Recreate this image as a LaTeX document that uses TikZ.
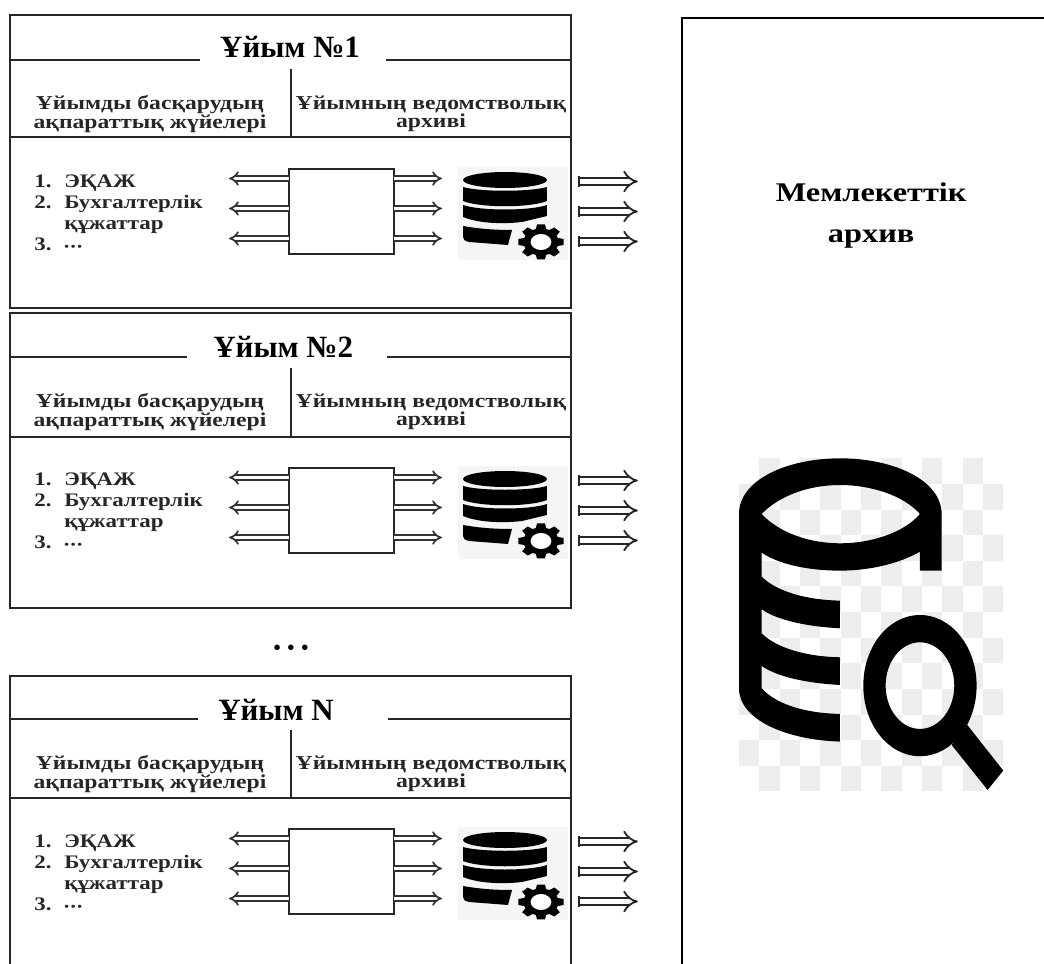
\documentclass[tikz,border=0pt]{standalone}
\usepackage{fontspec}
\setmainfont{Liberation Serif}
\newfontfamily\wideserif[FakeStretch=1.2]{Liberation Serif}
\usetikzlibrary{
    positioning,
    arrows.meta,
    calc
}
\newcommand{\orglist}{\begin{tabular}{@{}l@{\hspace{3.2mm}}l@{}}
1. & ЭҚАЖ\\
2. & Бухгалтерлік\\
   & құжаттар\\
3. & {\fontsize{8}{8}\selectfont •\,•\,•}
\end{tabular}}
\tikzset{
    orgbox/.style={
        rectangle, draw=black!85, line width=1.5pt, outer sep=0pt, minimum width=14.025cm
    },
    partline/.style={
        draw=black!85, line width=1.5pt
    },
    orgtitle/.style={
        inner sep=0pt,
        font=\bfseries\fontsize{22}{24}\selectfont
    },
    parttitle/.style={
        align=center, inner sep=0pt,
        font=\wideserif\bfseries\fontsize{14}{12}\selectfont, text=black!85
    },
    doclist/.style={
        align=left, inner sep=0pt,
        font=\wideserif\bfseries\fontsize{13.6}{15}\selectfont, text=black!85
    },
    corebox/.style={
        rectangle, draw=black!85, line width=1.4pt, outer sep=0pt, fill=white,
        minimum width=2.625cm, minimum height=2.125cm
    },
    innerarrow/.style={
        double=white, draw=black!80, line width=1.2pt, double distance=2.2pt,
        -{Implies[length=3pt, width=8.5pt, line width=1.2pt]}
    },
    outerarrow/.style={
        double=white, draw=black!85, line width=1.3pt, double distance=4pt,
        {Bar[width=7.8pt, line width=1.3pt]}-{Implies[length=5pt, width=14pt, line width=1.3pt]}
    },
    pics/dbgear/.style={
        code={
            \begin{scope}[x=0.025cm, y=-0.025cm]
                \fill[black!4] (-47,-13) rectangle (63,80);
                \fill[black] (0,0) ellipse [x radius=42, y radius=8];
                \fill[black] (-42,7) .. controls (-25,12) and (25,12) .. (42,7) -- (42,21)
                    .. controls (25,28) and (-25,28) .. (-42,21) -- cycle;
                \fill[black] (-42,25) .. controls (-25,31) and (25,31) .. (42,25) -- (42,36)
                    -- (17,42) .. controls (0,44) and (-25,44) .. (-42,37) -- cycle;
                \fill[black] (-42,46) .. controls (-25,49) and (-10,50) .. (7,50) -- (3,65)
                    -- (-36,62) .. controls (-40,61) and (-42,60) .. (-42,57) -- cycle;
                \begin{scope}[shift={(36,62)}, xscale=1.3]
                    \fill[black] (0,0) circle (13.5);
                    \foreach \a in {0,45,...,315}
                        \fill[black, rotate=\a] (-4.2,12) -- (-3,17.5) -- (3,17.5) -- (4.2,12) -- cycle;
                    \fill[white] (0,0) circle (8);
                \end{scope}
            \end{scope}
        }
    },
    pics/dbsearch/.style={
        code={
            \begin{scope}[x=0.008333cm, y=-0.008333cm]
                % Checker background
                \foreach \r in {0,...,12}
                    \foreach \c in {0,...,12} {
                        \pgfmathparse{int(mod(\r+\c,2))}
                        \ifnum\pgfmathresult=1
                            \fill[black!7] ({57+61*\c},{55+76.9*\r}) rectangle ++(61,76.9);
                        \fi
                    }
                \fill[black, even odd rule]
                    (57,222) .. controls (57,120) and (200,55) .. (361,55)
                    .. controls (520,55) and (665,120) .. (665,222) -- (665,392) -- (600,392) -- (600,335)
                    .. controls (540,370) and (450,392) .. (361,392)
                    .. controls (270,392) and (180,375) .. (125,338) -- (125,410)
                    .. controls (170,455) and (260,480) .. (360,482) -- (360,565)
                    .. controls (260,560) and (170,540) .. (125,508) -- (125,580)
                    .. controls (170,625) and (260,650) .. (360,652) -- (360,735)
                    .. controls (260,730) and (170,710) .. (125,678) -- (125,745)
                    .. controls (170,795) and (260,820) .. (360,822) -- (360,905)
                    .. controls (200,900) and (57,840) .. (57,745) -- cycle
                    (125,222) .. controls (180,165) and (270,135) .. (361,135)
                    .. controls (450,135) and (550,165) .. (600,222)
                    .. controls (550,280) and (450,310) .. (361,310)
                    .. controls (270,310) and (180,280) .. (125,222) -- cycle;
                \fill[black, even odd rule]
                    (600,737) ellipse [x radius=170, y radius=212]
                    (600,737) ellipse [x radius=103, y radius=130];
                \fill[black] (742,855) -- (850,992) -- (803,1050) -- (695,915) -- cycle;
            \end{scope}
        }
    }
}
\begin{document}
\begin{tikzpicture}
    \path[use as bounding box, clip] (0,0) rectangle (26.1,-24.075);

    % ORGANISATION 1
    \node[orgbox, anchor=north west, minimum height=7.325cm] (org_one) at (0.25,-0.375) {};
    \coordinate (head_one) at (0,-1.5);
    \coordinate (base_one) at (0,-3.425);
    \draw[partline] (head_one -| org_one.west) -- (5,-1.5);
    \draw[partline] (9.65,-1.5) -- (head_one -| org_one.east);
    \node[orgtitle] (title_one) at (7.25,-1.175) {Ұйым №1};
    \draw[partline] (base_one -| org_one.west) -- (base_one -| org_one.east);
    \draw[partline] (base_one -| 7.275,0) -- ++(0,1.7);
    \node[parttitle] (sys_one) at (3.75,-2.85) {Ұйымды басқарудың\\ақпараттық жүйелері};
    \node[parttitle] (arch_one) at (10.775,-2.85) {Ұйымның ведомстволық\\архиві};
    \node[doclist, anchor=north west] (list_one) at (0.85,-4.3) {\orglist};
    \node[corebox, anchor=north west] (core_one) at (7.225,-4.225) {};
    \pic at (12.625,-4.5) {dbgear};
    \foreach \s in {0.75,0,-0.75} {
        \draw[innerarrow] ([yshift=\s cm + 0.075cm]core_one.west) -- ++(-1.5,0);
        \draw[innerarrow] ([yshift=\s cm + 0.075cm]core_one.east) -- ++(1.2,0);
        \draw[outerarrow] ([xshift=0.17cm, yshift=\s cm]org_one.east |- core_one.center) -- ++(1.5,0);
    }

    % ORGANISATION 2
    \node[orgbox, anchor=north west, minimum height=7.375cm] (org_two) at (0.25,-7.825) {};
    \coordinate (head_two) at (0,-8.925);
    \coordinate (base_two) at (0,-10.925);
    \draw[partline] (head_two -| org_two.west) -- (4.675,-8.925);
    \draw[partline] (9.675,-8.925) -- (head_two -| org_two.east);
    \node[orgtitle] (title_two) at (7.08,-8.675) {Ұйым №2};
    \draw[partline] (base_two -| org_two.west) -- (base_two -| org_two.east);
    \draw[partline] (base_two -| 7.275,0) -- ++(0,1.725);
    \node[parttitle] (sys_two) at (3.75,-10.3) {Ұйымды басқарудың\\ақпараттық жүйелері};
    \node[parttitle] (arch_two) at (10.775,-10.3) {Ұйымның ведомстволық\\архиві};
    \node[doclist, anchor=north west] (list_two) at (0.85,-11.75) {\orglist};
    \node[corebox, anchor=north west] (core_two) at (7.225,-11.7) {};
    \pic at (12.625,-11.975) {dbgear};
    \foreach \s in {0.75,0,-0.75} {
        \draw[innerarrow] ([yshift=\s cm + 0.075cm]core_two.west) -- ++(-1.5,0);
        \draw[innerarrow] ([yshift=\s cm + 0.075cm]core_two.east) -- ++(1.2,0);
        \draw[outerarrow] ([xshift=0.17cm, yshift=\s cm]org_two.east |- core_two.center) -- ++(1.5,0);
    }

    % Dots between organisations
    \node[inner sep=0pt, font=\bfseries\Large] (more) at (7.275,-16.25) {•\,\,•\,\,•};

    % ORGANISATION N
    \node[orgbox, anchor=north west, minimum height=8.5cm] (org_n) at (0.25,-16.9) {};
    \coordinate (head_n) at (0,-17.975);
    \coordinate (base_n) at (0,-19.95);
    \draw[partline] (head_n -| org_n.west) -- (4.95,-17.975);
    \draw[partline] (9.7,-17.975) -- (head_n -| org_n.east);
    \node[orgtitle] (title_n) at (6.9,-17.75) {Ұйым N};
    \draw[partline] (base_n -| org_n.west) -- (base_n -| org_n.east);
    \draw[partline] (base_n -| 7.275,0) -- ++(0,1.7);
    \node[parttitle] (sys_n) at (3.75,-19.35) {Ұйымды басқарудың\\ақпараттық жүйелері};
    \node[parttitle] (arch_n) at (10.775,-19.35) {Ұйымның ведомстволық\\архиві};
    \node[doclist, anchor=north west] (list_n) at (0.85,-20.8) {\orglist};
    \node[corebox, anchor=north west] (core_n) at (7.225,-20.725) {};
    \pic at (12.625,-21) {dbgear};
    \foreach \s in {0.75,0,-0.75} {
        \draw[innerarrow] ([yshift=\s cm + 0.075cm]core_n.west) -- ++(-1.5,0);
        \draw[innerarrow] ([yshift=\s cm + 0.075cm]core_n.east) -- ++(1.2,0);
        \draw[outerarrow] ([xshift=0.17cm, yshift=\s cm]org_n.east |- core_n.center) -- ++(1.5,0);
    }

    % STATE ARCHIVE
    \node[rectangle, draw=black, line width=1.9pt, outer sep=0pt, anchor=north west, minimum width=10cm, minimum height=24.5cm] (state) at (17.05,-0.45) {};
    \node[inner sep=0pt, align=center, font=\wideserif\bfseries\fontsize{19.2}{29}\selectfont] (state_title) at (21.78,-5.38) {Мемлекеттік\\архив};
    \pic at (18,-11) {dbsearch};
\end{tikzpicture}
\end{document}
